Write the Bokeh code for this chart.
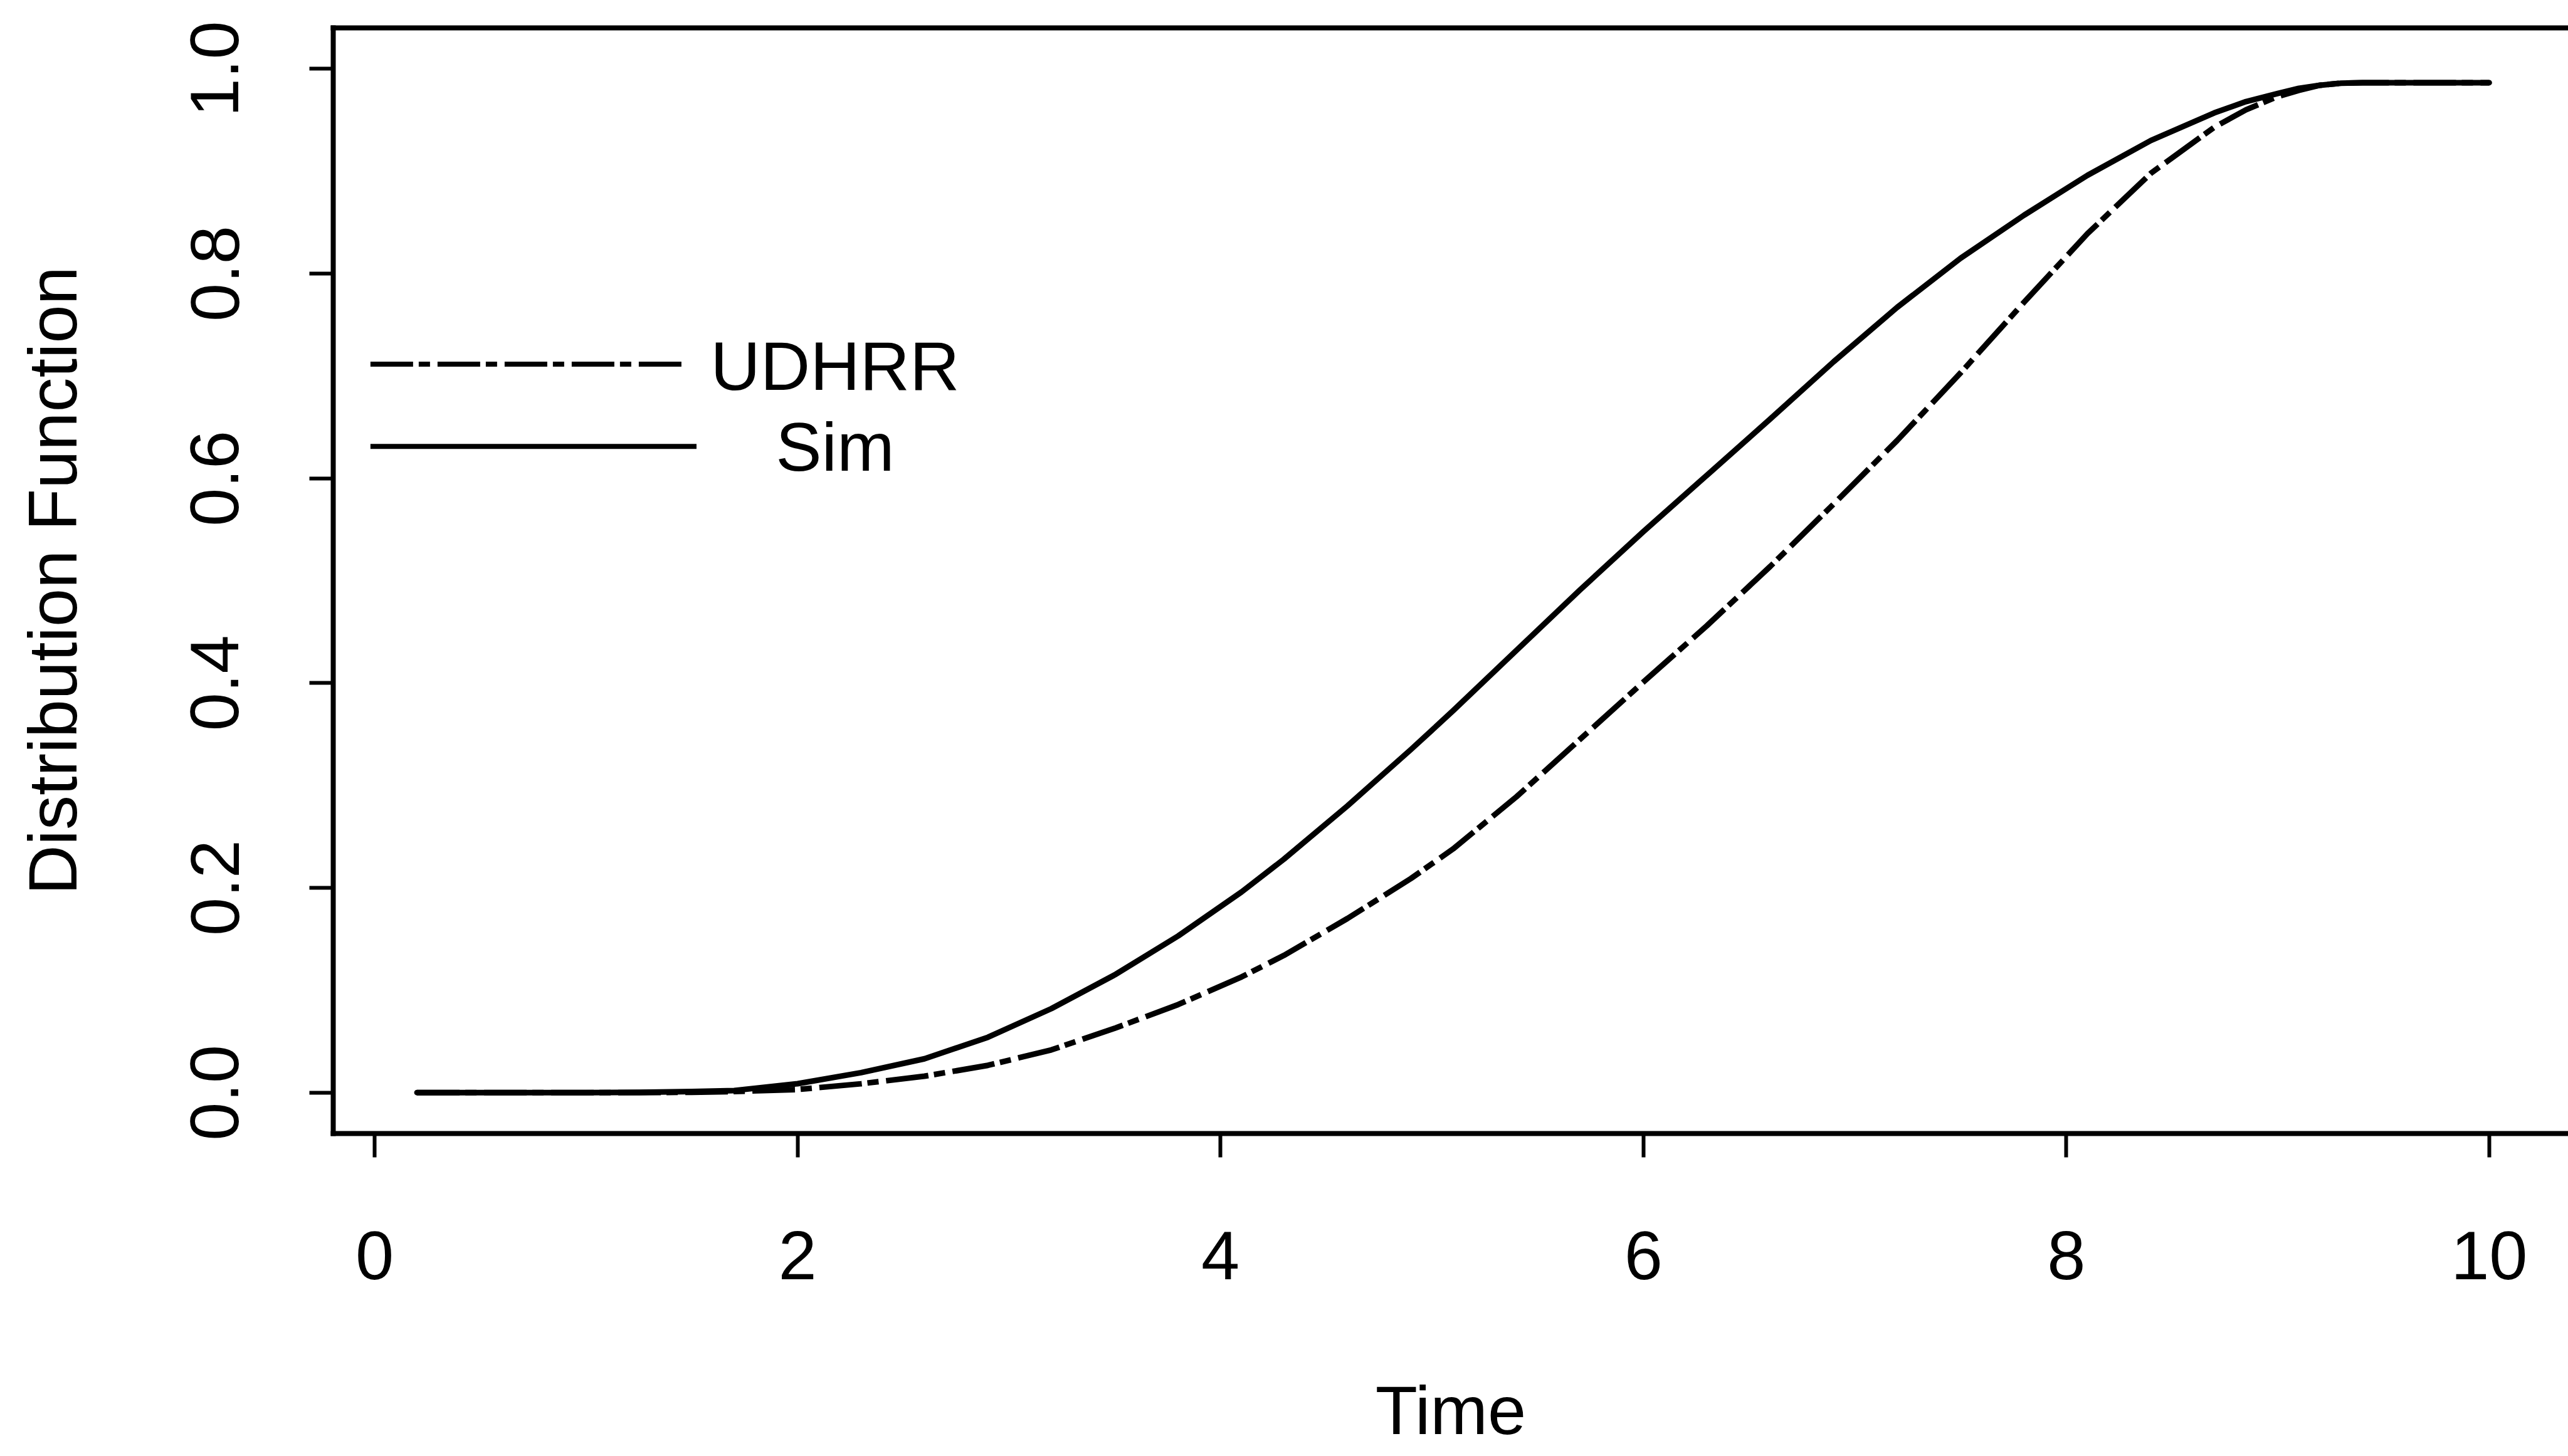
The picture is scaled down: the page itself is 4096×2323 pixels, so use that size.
from bokeh.plotting import figure
from bokeh.models import Range1d, LinearAxis, FixedTicker, PrintfTickFormatter
from bokeh.core.properties import value
from bokeh.embed import file_html
from bokeh.resources import INLINE

# Distribution functions over time
time = [0.2, 0.5, 1.0, 1.25, 1.5, 1.7, 2.0, 2.3, 2.6, 2.9, 3.2, 3.5, 3.8, 4.1,
        4.3, 4.6, 4.9, 5.1, 5.4, 5.7, 6.0, 6.3, 6.6, 6.9, 7.2, 7.5, 7.8, 8.1,
        8.4, 8.7, 8.85, 9.0, 9.1, 9.2, 9.3, 9.4, 10.0]
sim = [0.0, 0.0, 0.0, 0.0003, 0.001, 0.002, 0.0087, 0.0195, 0.033, 0.054,
       0.082, 0.115, 0.153, 0.196, 0.228, 0.280, 0.335, 0.373, 0.432, 0.491,
       0.548, 0.603, 0.658, 0.714, 0.767, 0.815, 0.857, 0.896, 0.930, 0.957,
       0.968, 0.976, 0.981, 0.984, 0.986, 0.9865, 0.9865]
udhrr = [0.0, 0.0, 0.0, 0.0, 0.0003, 0.001, 0.003, 0.0086, 0.016, 0.0266,
         0.0417, 0.0628, 0.086, 0.113, 0.134, 0.170, 0.209, 0.238, 0.289,
         0.345, 0.401, 0.456, 0.514, 0.575, 0.637, 0.703, 0.772, 0.839, 0.898,
         0.943, 0.960, 0.973, 0.979, 0.984, 0.986, 0.9865, 0.9865]

x_ticks = [0, 2, 4, 6, 8, 10]
y_ticks = [0.0, 0.2, 0.4, 0.6, 0.8, 1.0]
series_labels = ["UDHRR", "Sim"]

FONT = "Liberation Sans"
FS = "110px"
DOTDASH = "68 9 18 12"
LW = 9

p = figure(width=4096, height=2323,
           x_range=Range1d(-0.196, 10.374), y_range=Range1d(-0.04, 1.04),
           output_backend="svg", toolbar_location=None,
           min_border_left=531, min_border_right=0,
           min_border_top=44, min_border_bottom=515,
           outline_line_color=None, background_fill_color="white",
           border_fill_color="white")
p.grid.visible = False

for ax in (p.xaxis[0], p.yaxis[0]):
    ax.major_tick_out = 38
    ax.major_tick_in = 0
    ax.major_tick_line_width = 6
    ax.major_tick_line_color = "black"
    ax.minor_tick_line_color = None
    ax.axis_line_width = 8
    ax.axis_line_color = "black"
    ax.axis_line_cap = "square"
    ax.major_label_text_font = FONT
    ax.major_label_text_font_size = FS
    ax.major_label_text_color = "black"
    ax.axis_label_text_font = FONT
    ax.axis_label_text_font_size = FS
    ax.axis_label_text_font_style = "normal"
    ax.axis_label_text_color = "black"

xa, ya = p.xaxis[0], p.yaxis[0]
xa.ticker = FixedTicker(ticks=x_ticks)
xa.axis_label = "Time"
xa.major_label_standoff = 118
xa.axis_label_standoff = 144
ya.ticker = FixedTicker(ticks=y_ticks)
ya.formatter = PrintfTickFormatter(format="%.1f")
ya.major_label_orientation = "vertical"
ya.axis_label = "Distribution Function"
ya.major_label_standoff = 113
ya.axis_label_standoff = 157

# top edge of the box
top = LinearAxis(ticker=FixedTicker(ticks=[]), major_tick_out=0, major_tick_in=0,
                 major_label_text_font_size="0px", axis_line_width=8,
                 axis_line_color="black", axis_line_cap="square",
                 minor_tick_line_color=None)
p.add_layout(top, "above")

# curves
p.line(time, udhrr, line_color="black", line_width=LW, line_dash=DOTDASH,
       line_join="round")
p.line(time, sim, line_color="black", line_width=LW, line_join="round",
       line_cap="round")

# key
LEG_X0 = -0.02
LEG_X1_DASH = 1.471
LEG_X1_SOLID = 1.522
LEG_Y = [0.7116, 0.6312]
LEG_TEXT_X = 2.177
LEG_TEXT_Y = [0.710, 0.631]

p.line([LEG_X0, LEG_X1_DASH], [LEG_Y[0], LEG_Y[0]], line_color="black",
       line_width=8, line_dash=DOTDASH)
p.line([LEG_X0, LEG_X1_SOLID], [LEG_Y[1], LEG_Y[1]], line_color="black",
       line_width=8)
p.text(x=[LEG_TEXT_X, LEG_TEXT_X], y=LEG_TEXT_Y, text=series_labels,
       text_align="center", text_baseline="alphabetic",
       text_font=value(FONT), text_font_size=value(FS), text_color="black")

open("out.html", "w").write(file_html(p, INLINE))
